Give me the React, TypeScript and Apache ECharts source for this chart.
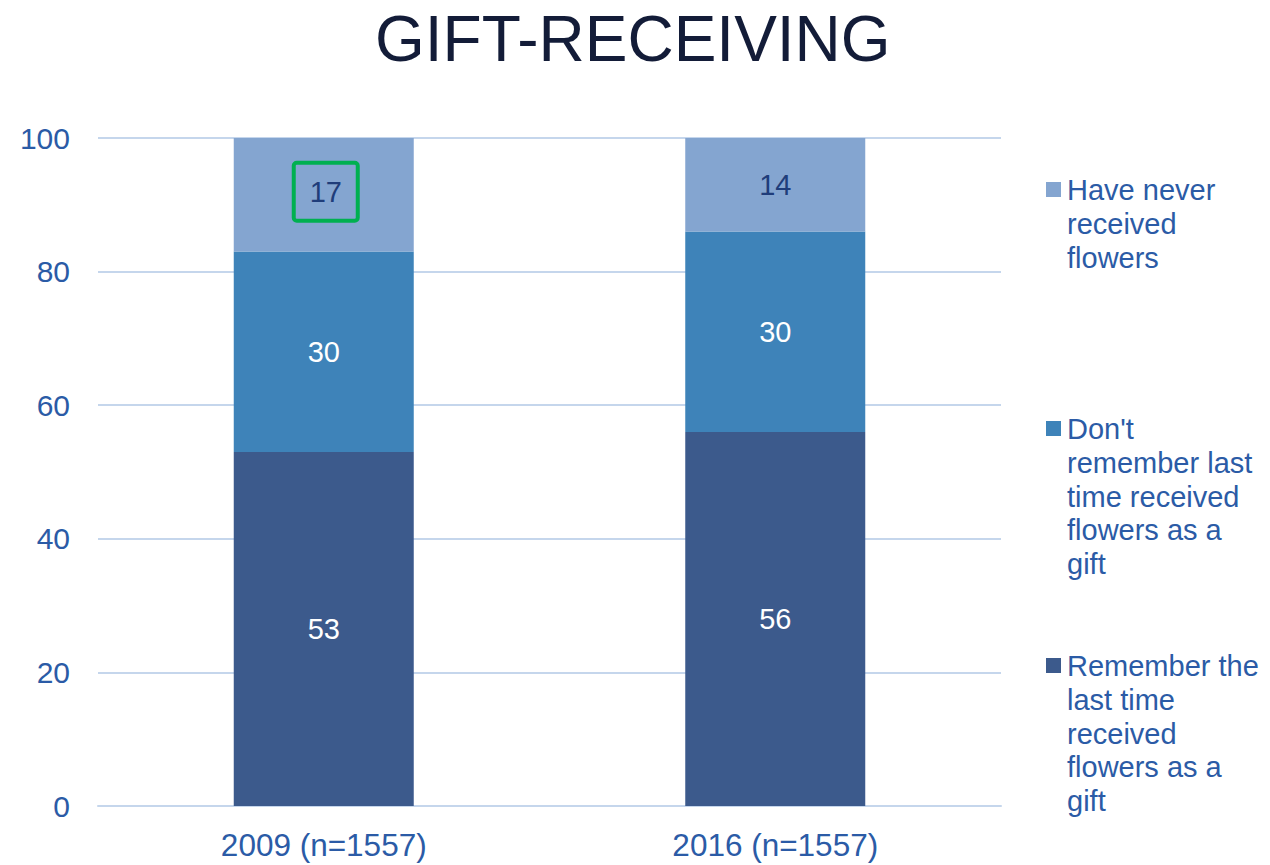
import React, { useEffect, useRef } from "react";
import * as echarts from "echarts";

const categories = ["2009 (n=1557)", "2016 (n=1557)"];
const rememberValues = [53, 56];
const dontRememberValues = [30, 30];
const neverValues = [17, 14];
const seriesNames = [
  "Remember the last time received flowers as a gift",
  "Don't remember last time received flowers as a gift",
  "Have never received flowers",
];
const legendLines = [
  ["Remember the", "last time", "received", "flowers as a", "gift"],
  ["Don't", "remember last", "time received", "flowers as a", "gift"],
  ["Have never", "received", "flowers"],
];
const yTicks = [0, 20, 40, 60, 80, 100];

const FONT = "'Liberation Sans', Arial, Helvetica, sans-serif";
const colors = ["#3c5a8c", "#3e83b9", "#84a5d0"];
const axisBlue = "#2b5ba6";

export default function App() {
  const ref = useRef<HTMLDivElement>(null);
  useEffect(() => {
    if (!ref.current) return;
    const chart = echarts.init(ref.current, undefined, { renderer: "svg" });
    const legendTops = [666, 429, 190];
    const legendGraphics: any[] = [];
    [2, 1, 0].forEach((i) => {
      legendGraphics.push({
        type: "rect",
        shape: { x: 1046, y: legendTops[i] - 8, width: 15, height: 15 },
        style: { fill: colors[i] },
      });
      legendGraphics.push({
        type: "text",
        x: 1067,
        y: legendTops[i] - 17,
        style: {
          text: legendLines[i].join("\n"),
          font: `29px ${FONT}`,
          fill: axisBlue,
          lineHeight: 33.8,
          verticalAlign: "top",
        },
      });
    });

    const mkSeries = (idx: number, values: number[], labelColor: string) => ({
      name: seriesNames[idx],
      type: "bar",
      stack: "total",
      barWidth: 180,
      itemStyle: { color: colors[idx] },
      label: {
        show: true,
        position: "inside",
        color: labelColor,
        fontSize: 29,
        fontFamily: FONT,
      },
      data: values.map((v) => ({ value: v })),
    });

    const neverSeries: any = mkSeries(2, neverValues, "#1f3d7a");
    neverSeries.data[0] = {
      value: neverValues[0],
      label: {
        borderColor: "#00b050",
        borderWidth: 4,
        borderRadius: 3,
        width: 64,
        height: 58,
        lineHeight: 58,
        align: "center",
        verticalAlign: "middle",
        offset: [2, -3],
      },
    };

    chart.setOption({
      animation: false,
      backgroundColor: "#ffffff",
      title: {
        text: "GIFT-RECEIVING",
        left: 370,
        top: 2,
        textStyle: {
          fontSize: 64,
          fontWeight: "normal",
          color: "#131c38",
          fontFamily: FONT,
        },
      },
      grid: { left: 98, right: 269, top: 138, bottom: 59, containLabel: false },
      xAxis: {
        type: "category",
        data: categories,
        axisLine: { show: true, lineStyle: { color: "#c5d6ec", width: 2 } },
        axisTick: { show: false },
        axisLabel: {
          fontSize: 31.5,
          color: axisBlue,
          fontFamily: FONT,
          margin: 23,
        },
      },
      yAxis: {
        type: "value",
        min: 0,
        max: 100,
        interval: 20,
        axisLine: { show: false },
        axisTick: { show: false },
        splitLine: { lineStyle: { color: "#c5d6ec", width: 2 } },
        axisLabel: {
          fontSize: 30,
          color: axisBlue,
          fontFamily: FONT,
          margin: 28,
          formatter: (v: number) => (yTicks.includes(v) ? String(v) : ""),
        },
      },
      series: [
        mkSeries(0, rememberValues, "#ffffff"),
        mkSeries(1, dontRememberValues, "#ffffff"),
        neverSeries,
      ],
      graphic: legendGraphics,
    });
    return () => chart.dispose();
  }, []);
  return (
    <div
      ref={ref}
      style={{ position: "absolute", left: 0, top: 0, width: 1270, height: 865 }}
    />
  );
}
